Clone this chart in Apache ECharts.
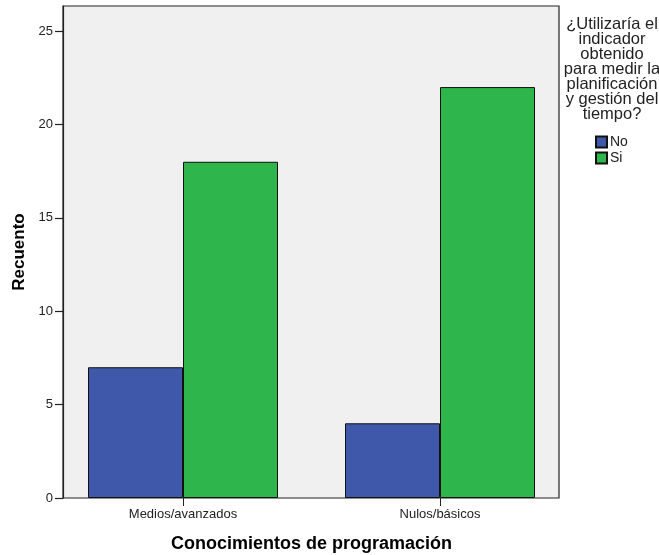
<!DOCTYPE html>
<html><head><meta charset="utf-8">
<script src="https://cdn.jsdelivr.net/npm/echarts@6/dist/echarts.min.js"></script>
<style>html,body{margin:0;padding:0;background:#fff}#c{width:659px;height:555px}</style>
</head><body><div id="c"></div>
<script>
const categories = ['Medios/avanzados', 'Nulos/básicos'];
const seriesNames = ['No', 'Si'];
const valuesNo = [7, 4];
const valuesSi = [18, 22];
const yTicks = [0, 5, 10, 15, 20, 25];
const legendTitle = '¿Utilizaría el\nindicador\nobtenido\npara medir la\nplanificación\ny gestión del\ntiempo?';

const chart = echarts.init(document.getElementById('c'), null, {renderer: 'canvas'});
const font = 'Liberation Sans, Arial, sans-serif';
const ymax = 26.34;
chart.setOption({
  animation: false,
  textStyle: {fontFamily: font},
  grid: [
    {left: 63, top: 6, width: 496, height: 492, show: true, backgroundColor: '#f0f0f0', borderColor: '#222', borderWidth: 1.2, containLabel: false, outerBoundsMode: 'none'},
    {left: 54.5, top: 6, width: 514, height: 492, containLabel: false, outerBoundsMode: 'none'}
  ],
  xAxis: [
    {type: 'value', gridIndex: 0, show: false, min: 0, max: 1},
    {type: 'category', gridIndex: 1, data: categories,
     axisLine: {show: false},
     axisTick: {show: true, alignWithLabel: true, length: 8, lineStyle: {color: '#222', width: 1}},
     axisLabel: {color: '#222', fontSize: 13, margin: 10, fontFamily: font},
     name: 'Conocimientos de programación', nameLocation: 'middle', nameGap: 37,
     nameTextStyle: {fontSize: 18, fontWeight: 'bold', color: '#000', fontFamily: font}}
  ],
  yAxis: [
    {type: 'value', gridIndex: 0, min: 0, max: ymax, interval: 5,
     axisLine: {show: true, lineStyle: {color: '#222', width: 1.2}},
     axisTick: {show: true, length: 8, customValues: yTicks, lineStyle: {color: '#222', width: 1.2}},
     axisLabel: {color: '#222', fontSize: 13, margin: 10, fontFamily: font, customValues: yTicks},
     splitLine: {show: false},
     name: 'Recuento', nameLocation: 'middle', nameGap: 34, nameRotate: 90,
     nameTextStyle: {fontSize: 17, fontWeight: 'bold', color: '#000', fontFamily: font}},
    {type: 'value', gridIndex: 1, min: 0, max: ymax, show: false}
  ],
  legend: {
    orient: 'vertical', left: 595, top: 135, padding: 0, itemWidth: 11, itemHeight: 11, itemGap: 2,
    icon: 'rect', textStyle: {fontSize: 14, color: '#222', padding: [0, 0, 0, -2], fontFamily: font},
    data: seriesNames
  },
  graphic: [{
    type: 'text', x: 612, y: 17,
    style: {text: legendTitle, textAlign: 'center', textVerticalAlign: 'top', fill: '#222',
      font: '16.5px ' + font, lineHeight: 15}
  }],
  series: [
    {name: seriesNames[0], type: 'bar', xAxisIndex: 1, yAxisIndex: 1, data: valuesNo,
     barWidth: 95, barGap: '0%',
     itemStyle: {color: '#3f58a9', borderColor: '#111', borderWidth: 1}},
    {name: seriesNames[1], type: 'bar', xAxisIndex: 1, yAxisIndex: 1, data: valuesSi,
     barWidth: 95, barGap: '0%',
     itemStyle: {color: '#2eb54b', borderColor: '#111', borderWidth: 1}}
  ]
});
</script></body></html>
